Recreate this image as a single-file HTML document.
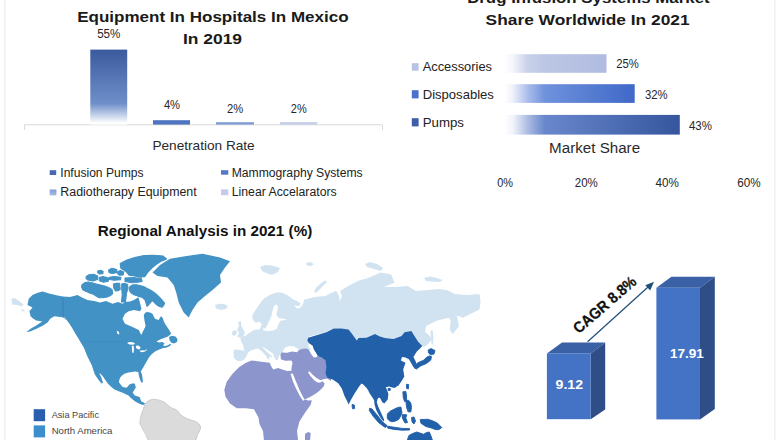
<!DOCTYPE html>
<html><head><meta charset="utf-8">
<style>
html,body{margin:0;padding:0;background:#fff;}
body{width:780px;height:440px;overflow:hidden;font-family:"Liberation Sans",sans-serif;}
svg{display:block;}
text{font-family:"Liberation Sans",sans-serif;}
</style></head><body>
<svg width="780" height="440" viewBox="0 0 780 440">
<defs>
<linearGradient id="g1" x1="0" y1="0" x2="0" y2="1"><stop offset="0" stop-color="#3a5a9e"/><stop offset="0.72" stop-color="#6f8fca"/><stop offset="0.98" stop-color="#ffffff"/></linearGradient>
<linearGradient id="ha" x1="0" y1="0" x2="1" y2="0"><stop offset="0" stop-color="#ffffff"/><stop offset="0.08" stop-color="#f4f6fb"/><stop offset="0.22" stop-color="#cad2ea"/><stop offset="0.4" stop-color="#bcc6e5"/><stop offset="1" stop-color="#b0bce0"/></linearGradient>
<linearGradient id="hb" x1="0" y1="0" x2="1" y2="0"><stop offset="0" stop-color="#ffffff"/><stop offset="0.06" stop-color="#f0f3fb"/><stop offset="0.18" stop-color="#a9bcea"/><stop offset="0.31" stop-color="#6f92dc"/><stop offset="1" stop-color="#3f68c8"/></linearGradient>
<linearGradient id="hc" x1="0" y1="0" x2="1" y2="0"><stop offset="0" stop-color="#ffffff"/><stop offset="0.05" stop-color="#f0f3fa"/><stop offset="0.13" stop-color="#aebde3"/><stop offset="0.23" stop-color="#6887cc"/><stop offset="1" stop-color="#35559d"/></linearGradient>
<linearGradient id="m2" x1="0" y1="0" x2="0" y2="1"><stop offset="0" stop-color="#7f9cd6"/><stop offset="1" stop-color="#a9bbe2"/></linearGradient>
</defs>
<rect width="780" height="440" fill="#fff"/>
<rect x="4.2" y="0" width="1.4" height="440" fill="#eceff6"/>
<rect x="774.1" y="0" width="1.5" height="440" fill="#eef2f8"/>

<!-- ===== top-left chart ===== -->
<text x="212.9" y="22.1" text-anchor="middle" font-size="15" font-weight="bold" fill="#1a1a1a" textLength="271.4" lengthAdjust="spacingAndGlyphs">Equipment In Hospitals In Mexico</text>
<text x="212.5" y="43.7" text-anchor="middle" font-size="15" font-weight="bold" fill="#1a1a1a" textLength="59.2" lengthAdjust="spacingAndGlyphs">In 2019</text>
<line x1="24.5" y1="124.8" x2="382.5" y2="124.8" stroke="#d9d9d9" stroke-width="1"/>
<line x1="24.5" y1="124.8" x2="24.5" y2="130" stroke="#d9d9d9" stroke-width="1"/>
<line x1="382.5" y1="124.8" x2="382.5" y2="130" stroke="#d9d9d9" stroke-width="1"/>
<rect x="90.3" y="49.6" width="36.9" height="75" fill="url(#g1)"/>
<rect x="153" y="120.2" width="37" height="4.4" fill="#4f74c0"/>
<rect x="216" y="122.2" width="38" height="2.4" fill="#7f9bd3"/>
<rect x="280" y="122.2" width="37.3" height="2.4" fill="#c3cde8"/>
<text x="108.8" y="38.4" text-anchor="middle" font-size="12.5" fill="#262626" textLength="23.3" lengthAdjust="spacingAndGlyphs">55%</text>
<text x="172" y="109.3" text-anchor="middle" font-size="12.5" fill="#262626" textLength="16.2" lengthAdjust="spacingAndGlyphs">4%</text>
<text x="235.1" y="112.8" text-anchor="middle" font-size="12.5" fill="#262626" textLength="16.2" lengthAdjust="spacingAndGlyphs">2%</text>
<text x="298.8" y="112.8" text-anchor="middle" font-size="12.5" fill="#262626" textLength="15.9" lengthAdjust="spacingAndGlyphs">2%</text>
<text x="152.4" y="149.5" font-size="13" fill="#2a2a2a" textLength="102.3" lengthAdjust="spacingAndGlyphs">Penetration Rate</text>
<rect x="49.7" y="170.2" width="6.5" height="4.8" fill="#4668b0"/>
<text x="60.3" y="176.7" font-size="12" fill="#222" textLength="83.2" lengthAdjust="spacingAndGlyphs">Infusion Pumps</text>
<rect x="49.7" y="189.5" width="6.7" height="5.9" fill="url(#m2)"/>
<text x="60.3" y="195.6" font-size="12" fill="#222" textLength="136.4" lengthAdjust="spacingAndGlyphs">Radiotherapy Equipment</text>
<rect x="221" y="170.2" width="7.3" height="4.5" fill="#5578c4"/>
<text x="231.7" y="176.7" font-size="12" fill="#222" textLength="131" lengthAdjust="spacingAndGlyphs">Mammography Systems</text>
<rect x="221" y="189.3" width="7.3" height="5.9" fill="#c3cde8"/>
<text x="231.7" y="195.6" font-size="12" fill="#222" textLength="105" lengthAdjust="spacingAndGlyphs">Linear Accelarators</text>

<!-- ===== top-right chart ===== -->
<text x="588.4" y="3.1" text-anchor="middle" font-size="15.3" font-weight="bold" fill="#1a1a1a" textLength="242.5" lengthAdjust="spacingAndGlyphs">Drug Infusion Systems Market</text>
<text x="587.6" y="24.6" text-anchor="middle" font-size="15.3" font-weight="bold" fill="#1a1a1a" textLength="204" lengthAdjust="spacingAndGlyphs">Share Worldwide In 2021</text>
<rect x="504.5" y="54.2" width="102" height="18.6" fill="url(#ha)"/>
<rect x="504.5" y="84.2" width="130.2" height="18.7" fill="url(#hb)"/>
<rect x="504.5" y="114.9" width="175.3" height="19.7" fill="url(#hc)"/>
<rect x="411.8" y="63.2" width="6.8" height="7.5" fill="#b7c3e2"/>
<rect x="411.8" y="90.2" width="6.8" height="8.2" fill="#4a72cc"/>
<rect x="411.8" y="118.2" width="6.8" height="8.2" fill="#3e5ea8"/>
<text x="422.7" y="71" font-size="13.2" fill="#222" textLength="69.3" lengthAdjust="spacingAndGlyphs">Accessories</text>
<text x="422.7" y="99" font-size="13.2" fill="#222" textLength="71.2" lengthAdjust="spacingAndGlyphs">Disposables</text>
<text x="422.7" y="126.6" font-size="13.2" fill="#222" textLength="41.3" lengthAdjust="spacingAndGlyphs">Pumps</text>
<text x="627.5" y="68" text-anchor="middle" font-size="12.4" fill="#262626" textLength="22.6" lengthAdjust="spacingAndGlyphs">25%</text>
<text x="656.2" y="98.8" text-anchor="middle" font-size="12.4" fill="#262626" textLength="22.6" lengthAdjust="spacingAndGlyphs">32%</text>
<text x="700.4" y="129.7" text-anchor="middle" font-size="12.4" fill="#262626" textLength="23" lengthAdjust="spacingAndGlyphs">43%</text>
<text x="594.6" y="152.9" text-anchor="middle" font-size="14" fill="#2a2a2a" textLength="91" lengthAdjust="spacingAndGlyphs">Market Share</text>
<text x="505.2" y="187" text-anchor="middle" font-size="12.2" fill="#262626" textLength="15.8" lengthAdjust="spacingAndGlyphs">0%</text>
<text x="586.3" y="187" text-anchor="middle" font-size="12.2" fill="#262626" textLength="23" lengthAdjust="spacingAndGlyphs">20%</text>
<text x="667.1" y="187" text-anchor="middle" font-size="12.2" fill="#262626" textLength="23.4" lengthAdjust="spacingAndGlyphs">40%</text>
<text x="748.9" y="187" text-anchor="middle" font-size="12.2" fill="#262626" textLength="23.4" lengthAdjust="spacingAndGlyphs">60%</text>

<!-- ===== map ===== -->
<text x="205" y="235.9" text-anchor="middle" font-size="14.3" font-weight="bold" fill="#111" textLength="214.5" lengthAdjust="spacingAndGlyphs">Regional Analysis in 2021 (%)</text>
<g id="map">
<polygon points="27.5,305 28.75,298.75 32.5,295 37,293 42.5,291.5 50,293.75 57.5,295.6 63,296.5 70,296.9 77.5,295 83,298 87.5,300 94,301 100,302.5 106,301 112.5,303.7 118,302 122.5,303.7 125,302 130,301.5 134,300 137,298 138.5,297.5 139.5,301 140.5,305 141.5,308.5 140,311.25 133.75,310 128.75,311.25 125,313.75 122.5,318.75 125,323.75 132.5,326.9 138.75,330 141.25,335 143,331.25 145.6,326.25 144.4,320 143.75,315 145.5,312.5 147.5,312 150,312.5 152.5,313.75 154,317 155,318.75 157,319.5 158.75,320 160,317.5 161.25,316.25 163,318.5 163.75,321.25 165.5,324.5 167.5,327.5 169.5,330.5 171.25,333.75 168,336.5 164,338 160,339.5 156.5,341.5 159,342.5 162.5,342 164.5,343.5 163,345.5 165,346 167.3,345.5 170,344 171.5,344.5 169,346.5 166,347.8 164,347.8 160.5,348.9 157.5,350.3 155,351.6 152.5,353.5 150.2,355.7 148.3,358.5 146.8,361.2 145,364.3 143.4,367.3 142,369.5 140.7,371.4 142,374.5 142.5,378 143,382.3 141.3,382.5 139.8,379 138.7,375 138.4,372 135,371.6 131.8,372 128.4,372.5 125,373.4 122.3,375.3 120.2,377.5 119.3,380 118.9,382.3 120.8,384.8 122.1,386.6 124.5,387.5 126.9,387.6 128.2,386 129.4,384.4 132,383.6 134.8,383.4 135.8,387.6 134.2,390.2 132.6,392.4 134.8,395.5 139.6,397.1 141.2,401.3 145.4,403.5 143.5,405 141.2,404.5 138,403 134.8,401.3 131.5,398.5 128.5,395.5 125.3,394 122.1,392.4 118,391 114.1,389.2 110.8,386.5 107.8,383.4 105.3,380 103,376.4 100.5,373.8 99.3,373.3 101.3,377.5 103,382.8 101.4,383.4 98.3,379.5 95,374.8 93.3,370 91.8,365.3 89.4,360.5 87.1,355.7 85.5,351.7 83.9,347.8 81.5,343.8 79.1,339.8 76.7,335.8 74.3,331.8 72,327.8 69.6,323.9 67,320.5 64.8,317.5 60,316.9 54.4,316.25 50.5,318.5 47.5,322.5 43,325.5 36,329 30,331.5 26.25,331.9 31,328.5 37,325 42.5,321.3 41.25,321.25 36.25,320.6 33,318.5 30.6,316.25 29.4,311.25 32.5,307.5" fill="#4292c5" />
<polygon points="120.2,263.6 126.4,260.2 134.6,257.5 144.1,255.5 153.7,255.3 163.2,256.1 166.6,258.9 161.9,260.9 156.4,264.3 152.3,267.7 148.2,271.8 144.8,276.6 140,277.3 134.6,275.9 129.1,275.2 126.4,271.8 120.9,268.4" fill="#4292c5" stroke="#4292c5" stroke-width="1.1" stroke-linejoin="round"/>
<polygon points="125,278 133,277.6 141.4,278.6 142.1,281.4 136,282.5 131.8,282.7 125,281.4" fill="#4292c5" stroke="#4292c5" stroke-width="1.1" stroke-linejoin="round"/>
<polygon points="108.6,270 112,268.2 116.8,269.5 116.5,272.8 112,273.4 109,272.5" fill="#4292c5" stroke="#4292c5" stroke-width="1.1" stroke-linejoin="round"/>
<polygon points="117.7,271.5 120.5,270.5 123.7,272 123.2,275 119.5,275.3 117.7,273.8" fill="#4292c5" stroke="#4292c5" stroke-width="1.1" stroke-linejoin="round"/>
<polygon points="109.3,277.2 114,276.5 120.9,277.2 120.5,279.8 114,280.2 109.5,279.5" fill="#4292c5" stroke="#4292c5" stroke-width="1.1" stroke-linejoin="round"/>
<polygon points="97.7,271 100.5,270.2 103.2,271.5 102.8,273.6 99.5,274 97.7,272.8" fill="#4292c5" stroke="#4292c5" stroke-width="1.1" stroke-linejoin="round"/>
<polygon points="86.1,276.5 89,274.8 93.6,274.3 97.7,276 97.5,279.5 93,280.9 88,280 86.1,278.5" fill="#4292c5" stroke="#4292c5" stroke-width="1.1" stroke-linejoin="round"/>
<polygon points="99.1,277.5 103,276.6 108.6,278 108.3,281.3 103.5,282.2 99.3,280.8" fill="#4292c5" stroke="#4292c5" stroke-width="1.1" stroke-linejoin="round"/>
<polygon points="82,284.6 85,282.6 88.2,282 92,282.8 96.4,284.1 100.5,285 104.6,286.1 108.5,287.6 112,289.5 112.7,293.6 110.5,295.6 107.3,297 103,297.6 99.1,297.7 96,296 93.6,294.3 90.5,293.5 88.2,292.3 85,291 82.7,289.5 81.6,287" fill="#4292c5" stroke="#4292c5" stroke-width="1.1" stroke-linejoin="round"/>
<polygon points="113.4,284.1 116.5,283.2 119.6,283.4 120.2,289.5 118,290.7 115.5,290.9 113.8,288" fill="#4292c5" stroke="#4292c5" stroke-width="1.1" stroke-linejoin="round"/>
<polygon points="121.6,284.1 124.5,283.2 127.7,284.5 127.7,289 126.5,293 125.5,302 121.5,302 122.2,295 121.8,289" fill="#4292c5" stroke="#4292c5" stroke-width="1.1" stroke-linejoin="round"/>
<polygon points="129.1,287.5 131,285.8 133.2,284.8 136.5,284.7 140,285.5 143.5,286.6 146.8,288.2 150.3,290 153.7,292.3 156.5,294.5 159.1,297 162,300 164.6,303.2 163.6,305.6 161.9,307.3 159,306.3 156.4,304.5 154.2,302.3 152.3,300.5 150.3,302.8 148.5,305 147,306.3 146,303 145,299.8 142,297.3 138.7,296.4 136.5,295.6 134.6,295 132.4,293.8 130.5,292.3 129.3,290" fill="#4292c5" stroke="#4292c5" stroke-width="1.1" stroke-linejoin="round"/>
<polygon points="127,343 129.5,342 133,342.3 135.2,343.8 133,344.8 129.5,344.5" fill="#fff" />
<polygon points="131.8,346 133.5,345.5 134,349 133.5,353 132.2,352.5 132,349" fill="#fff" />
<polygon points="135.9,345.8 138.5,345.5 140.7,347.5 139.5,349.5 137,349 136,347.5" fill="#fff" />
<polygon points="139.3,351 142,350.3 144.8,350.4 146.8,349 146.5,350.3 144.5,351.8 141.5,352.3" fill="#fff" />
<polygon points="116.8,331.2 118.3,331 119.5,334 118.3,334.5 117,333" fill="#fff" />
<polygon points="169,337 172,335.8 175.5,336.5 177.5,339 177,342 174,343.5 171,342.5 169.5,340" fill="#4292c5" />
<polygon points="152.5,272.5 160,265 170,258.7 185,256.2 202.5,253.7 220,257.5 230,261.2 225,267.5 220,275 221,282.5 212.5,290 205,296 197.5,302.5 192.5,310 188.7,317.5 183.7,312.5 178.7,302.5 176.2,292.5 173.7,285 167.5,277.5 157.5,276" fill="#4292c5" />
<polygon points="11.5,298.5 15,298 19,301 23.5,304.5 22,306.5 17,305 12,304.5" fill="#d1e3f1" />
<polygon points="21,309 24.5,310 24,311.5 21.5,311" fill="#d1e3f1" />
<polygon points="145,404.4 147.3,401.5 150,400 153,399.2 156.5,399.4 160,400.4 163,401.6 165.8,403.3 168,405.3 170.4,407.3 173.2,408.6 176.1,409.6 178.5,412 180.7,414.8 184,417 187.7,418.8 191,420 194.6,421.1 197.2,422.4 199.2,424 200.3,426 200.6,428 199.6,431 198,433.8 196.8,437 195.7,441 148.5,441 146.1,435 142.7,429.2 139.8,423.4 140.4,417.7 142.7,410.8" fill="#dbdbdb" stroke="#b9b9b9" stroke-width="0.6"/>
<polygon points="234,358 233.5,352 234,349.5 240,350 244.5,351 243.5,347 243,345 241,341.5 240.5,338 238.5,337.5 241,336.3 245,336 247,334.5 250,332.5 253,330.5 256,329.5 259,329.8 260.5,328 261,325.5 262.5,324.5 263.5,327 263,330 266,331 270,331 274,330.3 277,328.5 278,325.5 279.5,322 281,320.5 284,320.3 286.8,319.8 284,318.8 280,318.3 277.5,317 276.5,313.5 277.5,310 278,306.5 276.5,304.5 274.5,305.5 273,309 272,313 271.4,316 270,319.5 268.6,322 267,325.5 265.5,328.3 264,328.8 262.5,326 261,323.5 259.5,321.5 256.8,322.5 254,321.5 252.3,318.6 252.5,315 254,312.3 256.5,308.5 259,305 261.5,301.5 264,298.6 268,296 272,294 276,292.8 279.5,292.3 283,293 286,294.5 290,297 293.2,299.5 297,301 300.4,303.3 300,305.5 297,306 294.5,305 296,308 299,308.5 301.5,306.5 303.5,303 304,299.7 314.8,297 325.5,296 331,293 336.3,290.8 339,296 339.9,301.5 342,296 340,291 348.2,285.9 358.5,280.8 368.7,277.7 381,272.6 391.3,274.6 394.4,282.8 384,287 395.4,287 407.7,285.9 415.9,291 428.2,290 438.5,289 446.7,290 454.9,294.1 467.2,295.1 479.5,294.1 480.5,301.3 479.5,309.5 471.3,313.6 463,317.7 456.9,315.6 459,325.9 452.8,334.1 449.7,330 450.8,320.8 448.7,317.7 436.4,320.8 426.2,325.9 425.1,332 430.3,336.2 431.3,340 428,344 424,347 422.3,345.9 418.2,341.8 411.4,330.9 404.5,332.3 401.5,336 393.6,339.1 385,338 380,336.4 375,334 366.4,337.7 358.5,338 356.8,340.5 348.6,329.5 333.6,328.2 325.5,332.3 309,336.4 311,340 312,345 311,350 305,350 299,350.3 297.5,348.5 294,346.5 290,346 286,347 283.5,349.5 283,352.5 281,354.8 279,355.5 278.5,358 277.7,360.5 275.5,359.5 274,357 273,353.6 270,351.5 267,349.5 264,347.5 262,346.3 264,349 267.5,352.5 270.5,355 272.3,356.8 270.3,357.6 268.8,356.3 269.3,359.5 267.5,359 266,356 263,352.5 260,349.7 257.5,348.5 254,349.5 251,350.5 248,352.5 247,355 245.5,358 243,360.5 238.5,361.2 236,360" fill="#d1e3f1" />
<polygon points="238,322 241,321 241,325 243,329 245,333 243,336.5 237,337 239,333 237,330 239,326" fill="#d1e3f1" />
<polygon points="232.5,331 236,330 237,333.5 234,336 232,334.5" fill="#d1e3f1" />
<polygon points="215,305 219,303.7 224,304 228,306 226,309 221,310 216,308.5" fill="#d1e3f1" />
<polygon points="260,267 265,265 272,265.5 280,268 278,272 272,275 266,273 262,271" fill="#d1e3f1" />
<polygon points="306,263 310,262 314,264 311,266 307,265.5" fill="#d1e3f1" />
<polygon points="314,292 316,288 320,284 325,280.5 327,282 323,286 319,290 316,293" fill="#d1e3f1" />
<polygon points="365,264 370,262 377,264 383,268 381,271 374,269 367,267" fill="#d1e3f1" />
<polygon points="424,278 430,276.5 437,278 442.6,280 440,282 432,281.5 426,281" fill="#d1e3f1" />
<polygon points="430.5,331 432.5,330 433.5,337 433,344.5 431.5,344 431,337" fill="#d1e3f1" />
<polygon points="251.6,360.5 259.5,361.6 269.8,362.7 271,366 273.2,369.5 278,368 282.3,369.5 287,371 291.4,370.7 292.5,373 294.8,382 299.3,392.3 303.9,399 308,400.5 311.8,400.2 310.7,404.8 305,412.7 299.3,421.8 297,430.9 298.2,441 264,441 263,431 259.5,424 258.4,417.3 253.9,409.3 245.9,408.2 236.8,408.2 230,403.6 225.5,396.8 224.3,390 226.6,382 232.3,374 239,367.3 245.9,362.7" fill="#8c96cd" />
<polygon points="291.4,373 291.5,368 292.5,362.7 291.4,360.5 285,360.8 280.9,359.3 280.5,355 281.5,352.5 287,352.8 292,351.5 297,352.3 299,350 303,348.8 306.4,348.6 309,350 311,354 314,357.5 317.6,355.9 321.8,357.7 325.5,360.5 331,362 331,381 327.3,378.5 323.5,379.3 320.5,380.3 316.5,378 312.5,374.5 309.3,371.3 308,372.3 310.8,376.6 314,380 317,382.3 320,382.8 322.3,381.2 324.5,383.2 324,386 321.8,388.6 318,392 313.6,395 309,397.5 304.5,399.5 302.7,398.5 300,394 297.5,389 295.5,384 293.5,379 292.3,375" fill="#8c96cd" />
<polygon points="305,434 308,432 310.7,433 310,441 305,441" fill="#8c96cd" />
<polygon points="307.3,340.5 308.2,337.7 317.3,335 326.4,332.3 333.6,328.4 341,328.6 348.6,329.5 352.5,334.5 356.8,340.5 358.5,338 366.4,337.7 375,334 380,336.4 385,338 393.6,339.1 401.5,336 404.5,332.3 411.4,330.9 414.5,336 418.2,341.8 422.3,345.9 419.5,349 416.8,351.4 413.4,357 415.5,361 416.8,365 413.4,367.3 411,362.7 408.9,359.3 405.5,357.5 402,357 400.9,360.5 405.5,362.7 403.2,369.5 404.3,376.4 402,380.5 398.7,385.2 394.6,388 391.2,387.3 389.1,386.6 385.7,387.3 387,390 388.4,394.1 387.7,399.5 384.3,403.6 382.3,402.3 380.2,398.2 378.9,397.5 377.5,398.9 376.8,402.3 378.2,406.4 380.9,412.5 384.3,420 383.6,421.6 381.6,419.3 378.9,415.2 376.1,409.8 374.5,404.3 374.1,400.2 372,396.8 369.7,393.4 368,390 366.6,388 363.2,384.5 361.5,383.5 359.1,386.6 356.4,390.7 355,392.7 351.4,399 348.6,404.5 347.3,401.4 344.5,395.9 341.8,388.6 338.2,383.2 332.7,379.5 327.3,377.7 325.5,373.2 326.4,366.8 325.5,360.5 321.8,357.7 317.6,355.9 315.5,352.3 313.6,349.5 312.7,345.9 309,343.2" fill="#2260aa" />
<polygon points="352,404.5 354.4,405 354.6,408.6 352.5,408.8" fill="#2260aa" stroke="#2260aa" stroke-width="0.9" stroke-linejoin="round"/>
<polygon points="428.2,350 431,348.6 435,350.5 434,354 430.5,354.8 428.5,353" fill="#2260aa" stroke="#2260aa" stroke-width="0.9" stroke-linejoin="round"/>
<polygon points="429.3,355.9 431.5,356.5 430.8,360 426.5,363.5 420.5,366 416.5,369 414.3,368 414.5,365.6 418,362.7 423.6,360.2 427,357" fill="#2260aa" stroke="#2260aa" stroke-width="0.9" stroke-linejoin="round"/>
<polygon points="406.4,384.3 408.7,384.5 408.4,388.9 406.6,388.5" fill="#2260aa" stroke="#2260aa" stroke-width="0.9" stroke-linejoin="round"/>
<polygon points="388,388.6 390.2,388.4 390.3,390.3 388.2,390.5" fill="#2260aa" stroke="#2260aa" stroke-width="0.9" stroke-linejoin="round"/>
<polygon points="402.9,391.8 405.8,391.4 406.6,396 406.5,401 404.5,401.5 403.2,397" fill="#2260aa" stroke="#2260aa" stroke-width="0.9" stroke-linejoin="round"/>
<polygon points="405.8,400.5 408.5,400.2 410.8,403 411.5,407.5 410.8,412 408,411.8 406.5,407" fill="#2260aa" stroke="#2260aa" stroke-width="0.9" stroke-linejoin="round"/>
<polygon points="387.3,413.9 390.5,411 394,409.3 397.5,407.5 400.9,407 402,412.7 400.5,416.5 398.6,419.5 395,421.2 391.8,421.8 389,420.5 387.3,418.4" fill="#2260aa" stroke="#2260aa" stroke-width="0.9" stroke-linejoin="round"/>
<polygon points="369.6,408.2 372,409 377.3,415.3 382.2,421.5 387,425.5 386,427.3 384.5,427 378.8,422.8 373.4,416.6 369.3,410.5" fill="#2260aa" stroke="#2260aa" stroke-width="0.9" stroke-linejoin="round"/>
<polygon points="387.5,426.2 394,427.2 402,428.4 409.5,428.6 409.5,430 402,430.2 394,429.4 387.8,428.2" fill="#2260aa" stroke="#2260aa" stroke-width="0.9" stroke-linejoin="round"/>
<polygon points="402.2,414.6 406.8,414.8 405.8,417.8 407.5,422.5 405,423 403.3,420 402.3,417.5" fill="#2260aa" stroke="#2260aa" stroke-width="0.9" stroke-linejoin="round"/>
<polygon points="411.5,417.5 414,417 415.5,421 414,424 412,422" fill="#2260aa" stroke="#2260aa" stroke-width="0.9" stroke-linejoin="round"/>
<polygon points="420.2,419.5 428.2,419.3 433,421 437.3,423 441.8,427.5 439,429.5 436.1,429.8 430.5,427.7 425.9,426.6 420.9,423.2" fill="#2260aa" stroke="#2260aa" stroke-width="0.9" stroke-linejoin="round"/>
<polygon points="408.9,435.5 412.5,433.5 416.8,432 420,433 423.6,434.3 426.5,432.5 429.3,432 431,436 432.7,441 407,441" fill="#2260aa" stroke="#2260aa" stroke-width="0.9" stroke-linejoin="round"/>
<polygon points="308.2,344.8 309.3,343.6 312.7,345.9 313.6,349.5 315.5,352.3 317.6,355.9 315.8,357.5 313.3,356.8 312,353 310.5,349.5 308.8,347" fill="#fff" />
<polygon points="290.6,373.8 292.8,373.6 295.8,381 299.5,390 302.9,396.8 304.8,399.8 303,400.8 299.6,395.4 296,388.4 292.9,381.4" fill="#fff" />
<path d="M63,297 L63,317.3 L66,319.5" fill="none" stroke="#3273a3" stroke-width="0.5"/>
<path d="M84,341.5 L120,341.8 L127,343.5" fill="none" stroke="#3b84b6" stroke-width="0.4"/>
</g>
<rect x="33.7" y="409.2" width="11.4" height="12" fill="#2a5fb0"/>
<rect x="33.7" y="425.4" width="11.4" height="12" fill="#3d8ecd"/>
<text x="51.7" y="418.3" font-size="9.8" fill="#444" textLength="47.3" lengthAdjust="spacingAndGlyphs">Asia Pacific</text>
<text x="51.7" y="433.9" font-size="9.8" fill="#444" textLength="60.7" lengthAdjust="spacingAndGlyphs">North America</text>

<!-- ===== 3D bars ===== -->
<g id="bars3d">
<polygon points="546.9,353.4 562,342.6 605.2,342.6 590.7,353.4" fill="#3a60a6"/>
<polygon points="590.7,353.4 605.2,342.6 605.2,409.5 590.7,419.2" fill="#2f4d86"/>
<rect x="546.9" y="353.4" width="43.8" height="65.8" fill="#4472c4"/>
<polygon points="656.4,287.7 671.4,276.8 714.8,276.8 700,287.7" fill="#3a60a6"/>
<polygon points="700,287.7 714.8,276.8 714.8,408.9 700,419.4" fill="#2f4d86"/>
<rect x="656.4" y="287.7" width="43.6" height="131.7" fill="#4472c4"/>
<text x="569.3" y="389.3" text-anchor="middle" font-size="12.6" font-weight="bold" fill="#fff" textLength="27.5" lengthAdjust="spacingAndGlyphs">9.12</text>
<text x="686.9" y="358.4" text-anchor="middle" font-size="12.8" font-weight="bold" fill="#fff" textLength="33.8" lengthAdjust="spacingAndGlyphs">17.91</text>
<line x1="587.6" y1="341.7" x2="650" y2="285.2" stroke="#1f4e79" stroke-width="1.2"/>
<polygon points="654,281.7 645.3,285.3 650.2,290.6" fill="#1f4e79"/>
<text transform="translate(604.5,304.5) rotate(-41)" x="0" y="5.6" text-anchor="middle" font-size="15.5" font-weight="bold" fill="#111" stroke="#111" stroke-width="0.25" textLength="78" lengthAdjust="spacingAndGlyphs">CAGR 8.8%</text>
</g>
</svg>
</body></html>
